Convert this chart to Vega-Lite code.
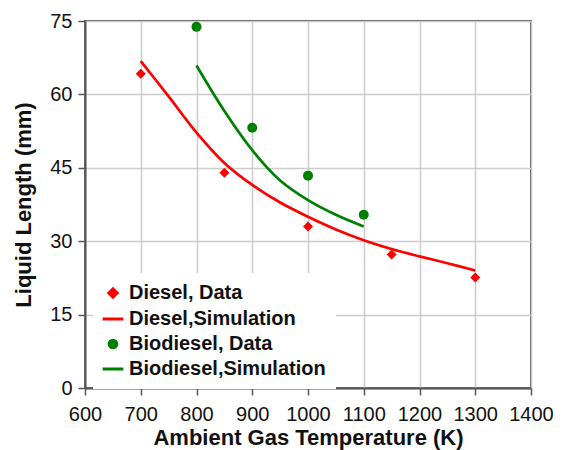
{
  "$schema": "https://vega.github.io/schema/vega-lite/v6.json",
  "width": 446,
  "height": 367,
  "autosize": {"type": "none"},
  "padding": {"left": 85, "top": 21, "right": 32, "bottom": 62},
  "background": "white",
  "config": {
    "font": "Liberation Sans",
    "view": {"stroke": "#555555", "strokeWidth": 2},
    "axis": {
      "labelFont": "Liberation Sans",
      "labelFontSize": 20,
      "labelColor": "#111111",
      "titleFont": "Liberation Sans",
      "titleFontSize": 22,
      "titleFontWeight": "bold",
      "titleColor": "#111111",
      "gridColor": "#cccccc",
      "gridWidth": 1.5,
      "domainColor": "#555555",
      "domainWidth": 2,
      "tickColor": "#555555",
      "tickWidth": 1.5,
      "tickSize": 7,
      "labelFlush": false,
      "labelBound": false
    }
  },
  "datasets": {
    "sim": [
      {"series": "Diesel,Simulation", "temp": 700, "length": 66.8},
      {"series": "Diesel,Simulation", "temp": 750, "length": 59.6},
      {"series": "Diesel,Simulation", "temp": 800, "length": 52.2},
      {"series": "Diesel,Simulation", "temp": 850, "length": 46.0},
      {"series": "Diesel,Simulation", "temp": 900, "length": 41.5},
      {"series": "Diesel,Simulation", "temp": 950, "length": 37.9},
      {"series": "Diesel,Simulation", "temp": 1000, "length": 35.0},
      {"series": "Diesel,Simulation", "temp": 1050, "length": 32.4},
      {"series": "Diesel,Simulation", "temp": 1100, "length": 30.2},
      {"series": "Diesel,Simulation", "temp": 1150, "length": 28.4},
      {"series": "Diesel,Simulation", "temp": 1200, "length": 26.9},
      {"series": "Diesel,Simulation", "temp": 1250, "length": 25.5},
      {"series": "Diesel,Simulation", "temp": 1300, "length": 24.0},
      {"series": "Biodiesel,Simulation", "temp": 800, "length": 65.9},
      {"series": "Biodiesel,Simulation", "temp": 850, "length": 56.6},
      {"series": "Biodiesel,Simulation", "temp": 900, "length": 48.6},
      {"series": "Biodiesel,Simulation", "temp": 950, "length": 42.4},
      {"series": "Biodiesel,Simulation", "temp": 1000, "length": 38.4},
      {"series": "Biodiesel,Simulation", "temp": 1050, "length": 35.4},
      {"series": "Biodiesel,Simulation", "temp": 1100, "length": 33.0}
    ],
    "obs": [
      {"series": "Diesel, Data", "temp": 700, "length": 64.2},
      {"series": "Diesel, Data", "temp": 850, "length": 44.0},
      {"series": "Diesel, Data", "temp": 1000, "length": 33.0},
      {"series": "Diesel, Data", "temp": 1150, "length": 27.3},
      {"series": "Diesel, Data", "temp": 1300, "length": 22.6},
      {"series": "Biodiesel, Data", "temp": 800, "length": 73.8},
      {"series": "Biodiesel, Data", "temp": 900, "length": 53.2},
      {"series": "Biodiesel, Data", "temp": 1000, "length": 43.4},
      {"series": "Biodiesel, Data", "temp": 1100, "length": 35.4}
    ]
  },
  "encoding": {
    "x": {
      "field": "temp", "type": "quantitative",
      "scale": {"domain": [600, 1400], "nice": false, "zero": false},
      "axis": {"values": [600, 700, 800, 900, 1000, 1100, 1200, 1300, 1400], "format": "d", "labelOverlap": false, "title": "Ambient Gas Temperature (K)", "titlePadding": 3, "labelPadding": 9}
    },
    "y": {
      "field": "length", "type": "quantitative",
      "scale": {"domain": [0, 75], "nice": false},
      "axis": {"values": [0, 15, 30, 45, 60, 75], "title": "Liquid Length (mm)", "titlePadding": 14, "labelPadding": 6}
    },
    "color": {
      "field": "series", "type": "nominal",
      "scale": {
        "domain": ["Diesel, Data", "Diesel,Simulation", "Biodiesel, Data", "Biodiesel,Simulation"],
        "range": ["#ff0000", "#ff0000", "#008000", "#008000"]
      },
      "legend": {
        "title": null,
        "orient": "none",
        "legendX": 8,
        "legendY": 252,
        "fillColor": "white",
        "padding": 10,
        "labelFont": "Liberation Sans",
        "labelFontSize": 20,
        "labelFontWeight": "bold",
        "labelColor": "#111111",
        "labelLimit": 400,
        "rowPadding": 5,
        "symbolSize": 430,
        "symbolStrokeWidth": 3,
        "labelOffset": 6,
        "symbolOpacity": 1,
        "encode": {
          "symbols": {
            "update": {
              "stroke": {"scale": "color", "field": "value"},
              "fill": {"scale": "color", "field": "value"},
              "size": {"signal": "(datum.value === 'Diesel,Simulation' || datum.value === 'Biodiesel,Simulation') ? 430 : (datum.value === 'Diesel, Data' ? 70 : 60)"}
            }
          }
        }
      }
    }
  },
  "layer": [
    {
      "data": {"name": "sim"},
      "mark": {"type": "line", "strokeWidth": 2.7, "interpolate": "catmull-rom"},
      "encoding": {}
    },
    {
      "data": {"name": "obs"},
      "mark": {"type": "point", "filled": true, "opacity": 1, "size": 100},
      "encoding": {
        "shape": {
          "field": "series", "type": "nominal",
          "scale": {
            "domain": ["Diesel, Data", "Diesel,Simulation", "Biodiesel, Data", "Biodiesel,Simulation"],
            "range": ["diamond", "stroke", "circle", "stroke"]
          },
          "legend": {
            "title": null,
            "orient": "none",
            "legendX": 8,
            "legendY": 252,
            "fillColor": "white",
            "padding": 10,
            "labelFont": "Liberation Sans",
            "labelFontSize": 20,
            "labelFontWeight": "bold",
            "labelColor": "#111111",
            "labelLimit": 400,
            "rowPadding": 5,
            "symbolSize": 430,
            "symbolStrokeWidth": 3,
            "labelOffset": 6,
            "symbolOpacity": 1,
            "encode": {
              "symbols": {
                "update": {
                  "stroke": {"scale": "color", "field": "value"},
                  "fill": {"scale": "color", "field": "value"},
                  "size": {"signal": "(datum.value === 'Diesel,Simulation' || datum.value === 'Biodiesel,Simulation') ? 430 : (datum.value === 'Diesel, Data' ? 70 : 60)"}
                }
              }
            }
          }
        }
      }
    }
  ]
}
